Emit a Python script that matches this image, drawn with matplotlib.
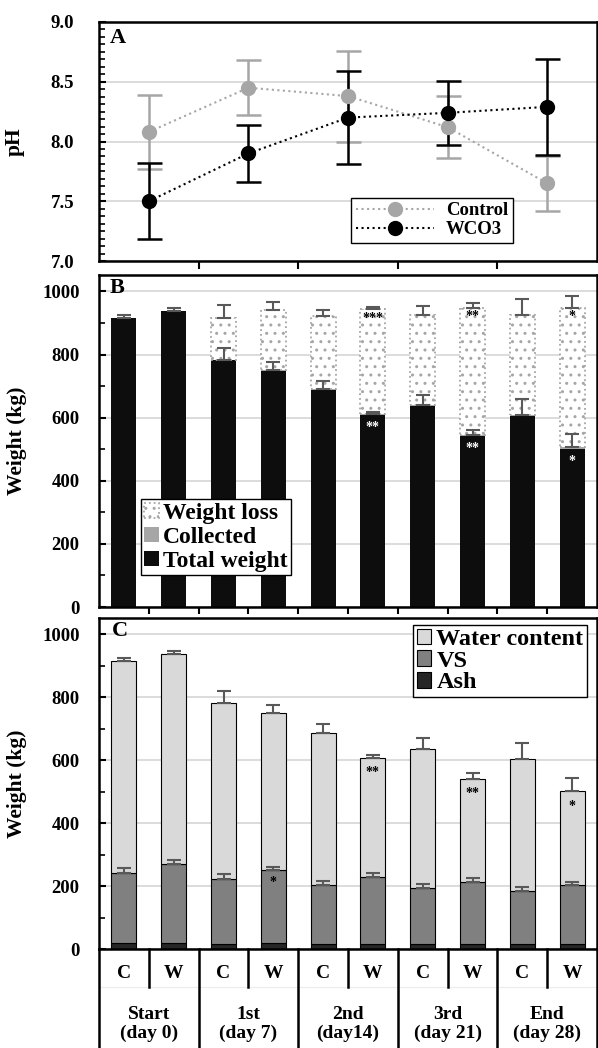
import numpy as np
import matplotlib.pyplot as plt
from matplotlib.ticker import MultipleLocator

plt.rcParams['font.family'] = ['Liberation Serif', 'DejaVu Serif']
plt.rcParams['font.weight'] = 'bold'
plt.rcParams['axes.labelweight'] = 'bold'
plt.rcParams['hatch.color'] = '#a6a6a6'
plt.rcParams['hatch.linewidth'] = 1.0

# panel A: pH
ph_control = [8.08, 8.45, 8.38, 8.12, 7.65]
ph_control_err = [0.31, 0.23, 0.38, 0.26, 0.23]
ph_wco3 = [7.50, 7.90, 8.20, 8.24, 8.29]
ph_wco3_err = [0.32, 0.24, 0.39, 0.27, 0.40]

# panel B / C: weights (kg)
treat = ['C', 'W'] * 5
group_labels = ['Start\n(day 0)', '1st\n(day 7)', '2nd\n(day14)', '3rd\n(day 21)', 'End\n(day 28)']
total = [915, 939, 782, 749, 688, 608, 637, 541, 604, 502]
total_err = [10, 8, 38, 25, 26, 8, 33, 17, 52, 41]
collected = [0, 0, 2, 2, 3, 3, 3, 4, 4, 5]
weight_loss = [0, 0, 133, 191, 231, 334, 284, 404, 317, 442]
loss_err = [0, 0, 41, 26, 19, 5, 29, 14, 52, 38]
ash = [18, 18, 17, 18, 17, 17, 17, 17, 17, 17]
vs = [224, 251, 206, 234, 185, 211, 176, 197, 166, 185]
vs_err = [16, 14, 15, 10, 15, 13, 13, 12, 13, 12]
sig_loss = ['', '', '', '', '', '***', '', '**', '', '*']
sig_total = ['', '', '', '', '', '**', '', '**', '', '*']
sig_water = ['', '', '', '', '', '**', '', '**', '', '*']
sig_vs = ['', '', '', '*', '', '', '', '', '', '']

W, H = 598, 1048
fig = plt.figure(figsize=(W / 100, H / 100), dpi=100)


def box(l, t, r, b):
    return [l / W, 1 - b / H, (r - l) / W, (b - t) / H]


axA = fig.add_axes(box(99, 22, 597, 261))
axB = fig.add_axes(box(99, 275, 597, 607))
axC = fig.add_axes(box(99, 618, 597, 949))

for ax in (axA, axB, axC):
    for s in ax.spines.values():
        s.set_linewidth(1.8)
    ax.set_axisbelow(True)
    ax.yaxis.grid(True, color='#d9d9d9', lw=1.3)

# ---- A ----
x = np.arange(5)
axA.errorbar(x, ph_control, yerr=ph_control_err, fmt='none', ecolor='#a6a6a6',
             elinewidth=1.8, capsize=9, capthick=1.8, zorder=3)
axA.errorbar(x, ph_wco3, yerr=ph_wco3_err, fmt='none', ecolor='black',
             elinewidth=1.8, capsize=9, capthick=1.8, zorder=3)
axA.plot(x, ph_control, ls=':', lw=1.5, color='#a6a6a6', marker='o', ms=10,
         label='Control', zorder=4)
axA.plot(x, ph_wco3, ls=':', lw=1.5, color='black', marker='o', ms=10,
         label='WCO3', zorder=5)
axA.set_xlim(-0.5, 4.5)
axA.set_ylim(7, 9)
axA.yaxis.set_major_locator(MultipleLocator(0.5))
axA.yaxis.set_minor_locator(MultipleLocator(0.0625))
axA.yaxis.set_major_formatter(plt.FormatStrFormatter('%.1f'))
axA.set_xticks([0.5, 1.5, 2.5, 3.5])
axA.tick_params(axis='x', direction='out', length=6, width=1.5, labelbottom=False)
axA.tick_params(axis='y', which='major', direction='in', length=5, width=1.5,
                labelsize=13.5, pad=18)
axA.tick_params(axis='y', which='minor', direction='in', length=4, width=1.2)
axA.set_ylabel('pH', fontsize=15.5)
axA.yaxis.set_label_coords(-0.149, 0.5)
axA.text(0.022, 0.975, 'A', transform=axA.transAxes, ha='left', va='top', fontsize=16)
legA = axA.legend(loc='lower left', bbox_to_anchor=(0.506, 0.075), fontsize=13.5,
                  handlelength=4.2, handletextpad=0.6, borderaxespad=0, borderpad=0.25,
                  labelspacing=0.1, fancybox=False, framealpha=1, edgecolor='black')
legA.get_frame().set_linewidth(1)

# ---- B ----
xb = np.arange(10)
total_a = np.array(total)
coll_a = np.array(collected)
loss_a = np.array(weight_loss)
base2 = total_a + coll_a
has_loss = loss_a > 0

b_tot = axB.bar(xb, total_a, 0.5, color='#0d0d0d', lw=0, zorder=2)
b_col = axB.bar(xb, coll_a, 0.5, bottom=total_a, color='#a6a6a6', lw=0, zorder=2)
b_loss = axB.bar(xb[has_loss], loss_a[has_loss], 0.5, bottom=base2[has_loss],
                 facecolor='white', edgecolor='#a6a6a6', ls=':', lw=1.3,
                 hatch='..', zorder=2)
axB.errorbar(xb, base2, yerr=[np.zeros(10), total_err], fmt='none', ecolor='#595959',
             elinewidth=1.5, capsize=5, capthick=1.5, zorder=3)
top_loss = base2 + loss_a
axB.errorbar(xb[has_loss], top_loss[has_loss],
             yerr=[np.zeros(has_loss.sum()), np.array(loss_err)[has_loss]],
             fmt='none', ecolor='#595959', elinewidth=1.5, capsize=5, capthick=1.5, zorder=3)
for i in range(10):
    if sig_loss[i]:
        axB.text(i, top_loss[i] - 30, sig_loss[i], ha='center', va='center',
                 fontsize=10, color='black', zorder=4)
    if sig_total[i]:
        axB.text(i, total_a[i] - 40, sig_total[i], ha='center', va='center',
                 fontsize=10, color='white', zorder=4)

axB.set_xlim(-0.5, 9.5)
axB.set_ylim(0, 1052)
axB.yaxis.set_major_locator(MultipleLocator(200))
axB.yaxis.set_minor_locator(MultipleLocator(100))
axB.set_xticks(np.arange(0.5, 9, 1))
axB.tick_params(axis='x', direction='out', length=5, width=1.5, labelbottom=False)
axB.tick_params(axis='y', which='major', direction='in', length=5, width=1.5,
                labelsize=13.5, pad=14)
axB.tick_params(axis='y', which='minor', direction='in', length=4, width=1.2)
axB.set_ylabel('Weight (kg)', fontsize=15.5)
axB.yaxis.set_label_coords(-0.145, 0.5)
axB.text(0.022, 0.99, 'B', transform=axB.transAxes, ha='left', va='top', fontsize=16)
legB = axB.legend([b_loss, b_col, b_tot], ['Weight loss', 'Collected', 'Total weight'],
                  loc='lower left', bbox_to_anchor=(0.084, 0.096), fontsize=17,
                  handlelength=0.6, handleheight=0.6, handletextpad=0.2,
                  borderaxespad=0, borderpad=0.15, labelspacing=0.12,
                  fancybox=False, framealpha=1, edgecolor='black')
legB.get_frame().set_linewidth(1)

# ---- C ----
ash_a = np.array(ash)
vs_a = np.array(vs)
vs_top = ash_a + vs_a
water = total_a - vs_top
c_ash = axC.bar(xb, ash_a, 0.5, color='#262626', edgecolor='black', lw=0.8, zorder=2)
c_vs = axC.bar(xb, vs_a, 0.5, bottom=ash_a, color='#808080', edgecolor='black', lw=0.8, zorder=2)
c_wat = axC.bar(xb, water, 0.5, bottom=vs_top, color='#d9d9d9', edgecolor='black', lw=0.8, zorder=2)
axC.errorbar(xb, vs_top, yerr=[np.zeros(10), vs_err], fmt='none', ecolor='#595959',
             elinewidth=1.5, capsize=5, capthick=1.5, zorder=3)
axC.errorbar(xb, total_a, yerr=[np.zeros(10), total_err], fmt='none', ecolor='#595959',
             elinewidth=1.5, capsize=5, capthick=1.5, zorder=3)
for i in range(10):
    if sig_water[i]:
        axC.text(i, total_a[i] - 48, sig_water[i], ha='center', va='center',
                 fontsize=10, color='black', zorder=4)
    if sig_vs[i]:
        axC.text(i, vs_top[i] - 42, sig_vs[i], ha='center', va='center',
                 fontsize=10, color='black', zorder=4)

axC.set_xlim(-0.5, 9.5)
axC.set_ylim(0, 1052)
axC.yaxis.set_major_locator(MultipleLocator(200))
axC.yaxis.set_minor_locator(MultipleLocator(100))
axC.set_xticks([])
axC.tick_params(axis='y', which='major', direction='in', length=5, width=1.5,
                labelsize=13.5, pad=14)
axC.tick_params(axis='y', which='minor', direction='in', length=4, width=1.2)
axC.set_ylabel('Weight (kg)', fontsize=15.5)
axC.yaxis.set_label_coords(-0.145, 0.5)
axC.text(0.025, 0.99, 'C', transform=axC.transAxes, ha='left', va='top', fontsize=16)
legC = axC.legend([c_wat, c_vs, c_ash], ['Water content', 'VS', 'Ash'],
                  loc='upper right', bbox_to_anchor=(0.98, 0.979), fontsize=17.5,
                  handlelength=0.6, handleheight=0.6, handletextpad=0.2,
                  borderaxespad=0, borderpad=0.15, labelspacing=0.02,
                  fancybox=False, framealpha=1, edgecolor='black')
legC.get_frame().set_linewidth(1)

# category table under panel C
axh = 949 - 618
trans = axC.get_xaxis_transform()
axC.plot([-0.5, 9.5], [-38 / axh] * 2, color='#ececec', lw=0.8, transform=trans, clip_on=False)
for i in range(10):
    axC.text(i, -25 / axh, treat[i], ha='center', va='center', fontsize=14, transform=trans)
for g in range(5):
    axC.text(2 * g + 0.5, -75 / axh, group_labels[g], ha='center', va='center',
             fontsize=14, linespacing=1.1, transform=trans)
    axC.plot([2 * g + 0.5] * 2, [0, -38 / axh], color='black', lw=1.8,
             transform=trans, clip_on=False)
for g in range(6):
    axC.plot([2 * g - 0.5] * 2, [0, -100 / axh], color='black', lw=1.8,
             transform=trans, clip_on=False)

fig.savefig('out.png', dpi=100)
